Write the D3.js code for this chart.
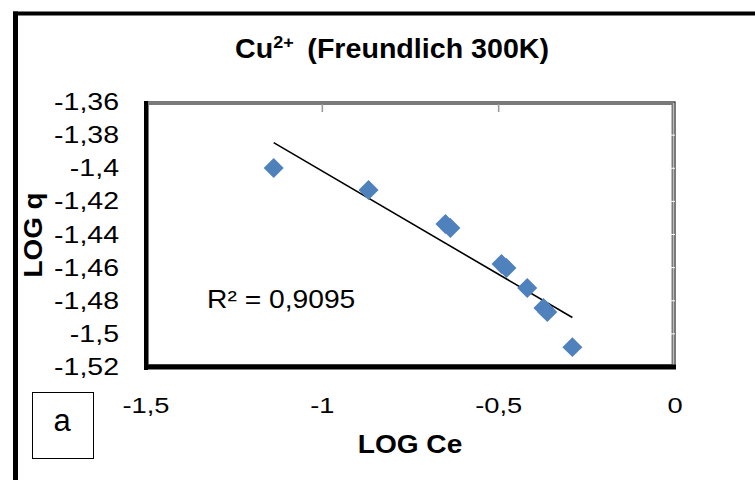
<!DOCTYPE html>
<html>
<head>
<meta charset="utf-8">
<script src="https://cdn.jsdelivr.net/npm/d3@7"></script>
<style>
  html, body { margin: 0; padding: 0; background: #fff; }
  svg { display: block; font-family: "Liberation Sans", Arial, sans-serif; }
</style>
</head>
<body>
<svg id="chart" width="755" height="480"></svg>
<script>
// Freundlich isotherm data, Cu2+ at 300 K
const logCe = [-1.138, -0.869, -0.651, -0.637, -0.492, -0.478, -0.419, -0.373, -0.362, -0.291];
const logQ  = [-1.3999, -1.4131, -1.4337, -1.4361, -1.4578, -1.4602, -1.4723, -1.4844, -1.4868, -1.5080];
const xTicks = [-1.5, -1, -0.5, 0];
const yTicks = [-1.36, -1.38, -1.40, -1.42, -1.44, -1.46, -1.48, -1.50, -1.52];
const r2Label = "R² = 0,9095";

const svg = d3.select("#chart");
const fmt = v => String(+v.toFixed(2)).replace(".", ",");

const x = d3.scaleLinear().domain([-1.5, 0]).range([146, 675]);
const y = d3.scaleLinear().domain([-1.36, -1.52]).range([102, 367]);

// text helper with horizontal stretch
function label(px, py, txt, opts) {
  const o = Object.assign({ size: 22, sx: 1, anchor: "start", weight: "normal", rot: 0 }, opts || {});
  const g = svg.append("g").attr("transform", `translate(${px},${py}) rotate(${o.rot}) scale(${o.sx},1)`);
  return g.append("text")
    .attr("text-anchor", o.anchor)
    .attr("font-size", o.size)
    .attr("font-weight", o.weight)
    .attr("fill", "#000")
    .text(txt);
}

// outer chart frame (left and top edges)
svg.append("line").attr("x1", 15.5).attr("x2", 15.5).attr("y1", 11.5).attr("y2", 480)
  .attr("stroke", "#000").attr("stroke-width", 5);
svg.append("line").attr("x1", 13).attr("x2", 755).attr("y1", 13.5).attr("y2", 13.5)
  .attr("stroke", "#000").attr("stroke-width", 4);

// title
const title = svg.append("g").attr("transform", "translate(392,58) scale(1.06,1)")
  .append("text").attr("text-anchor", "middle").attr("font-size", 27).attr("font-weight", "bold");
title.append("tspan").text("Cu");
title.append("tspan").attr("font-size", 17).attr("dy", -10).text("2+");
title.append("tspan").attr("dy", 10).text("\u2009 (Freundlich 300K)");

// plot area frame
const [x0, x1] = x.range();
const [y0, y1] = y.range();
svg.append("rect").attr("x", x0).attr("y", y0).attr("width", x1 - x0).attr("height", y1 - y0)
  .attr("fill", "#fff").attr("stroke", "#222").attr("stroke-width", 1.2);
svg.append("rect").attr("x", x0 + 2).attr("y", y0 + 2).attr("width", x1 - x0 - 4.5).attr("height", y1 - y0 - 4)
  .attr("fill", "none").attr("stroke", "#7a7a7a").attr("stroke-width", 2);

// ticks on the top edge and on the right edge
svg.selectAll(".xt").data(xTicks.slice(1, -1)).enter().append("line")
  .attr("x1", d => x(d)).attr("x2", d => x(d)).attr("y1", y0 + 2).attr("y2", y0 + 10)
  .attr("stroke", "#9a9a9a").attr("stroke-width", 1.6);
svg.selectAll(".yt").data(yTicks.slice(1, -1)).enter().append("line")
  .attr("x1", x1 - 4).attr("x2", x1).attr("y1", d => y(d)).attr("y2", d => y(d))
  .attr("stroke", "#fff").attr("stroke-width", 1);

// heavy left and bottom axis lines
svg.append("line").attr("x1", x0).attr("x2", x0).attr("y1", y0 - 1).attr("y2", y1 + 3)
  .attr("stroke", "#000").attr("stroke-width", 4);
svg.append("line").attr("x1", x0 - 2).attr("x2", x1 + 1).attr("y1", y1).attr("y2", y1)
  .attr("stroke", "#000").attr("stroke-width", 5);

// tick labels
yTicks.forEach(t => label(119, y(t) + 8, fmt(t), { size: 23, sx: 1.24, anchor: "end" }));
xTicks.forEach(t => label(x(t), 413, fmt(t), { size: 22, sx: 1.24, anchor: "middle" }));

// axis titles
label(410, 453, "LOG Ce", { size: 26, sx: 1.08, anchor: "middle", weight: "bold" });
label(42, 235, "LOG q", { size: 26, sx: 1.07, anchor: "middle", weight: "bold", rot: -90 });

// linear trendline (least squares)
const mx = d3.mean(logCe), my = d3.mean(logQ);
const sxy = d3.sum(logCe, (v, i) => (v - mx) * (logQ[i] - my));
const sxx = d3.sum(logCe, v => (v - mx) * (v - mx));
const slope = sxy / sxx, icpt = my - slope * mx;
const [xmin, xmax] = d3.extent(logCe);
svg.append("line")
  .attr("x1", x(xmin)).attr("y1", y(slope * xmin + icpt))
  .attr("x2", x(xmax)).attr("y2", y(slope * xmax + icpt))
  .attr("stroke", "#000").attr("stroke-width", 1.6);

// data markers
const diamond = d3.symbol().type(d3.symbolSquare).size(200);
svg.selectAll(".pt").data(logCe).enter().append("path")
  .attr("d", diamond)
  .attr("transform", (d, i) => `translate(${x(d)},${y(logQ[i])}) rotate(45)`)
  .attr("fill", "#4F81BD");

// R² annotation
label(207, 308, r2Label, { size: 25, sx: 1.13 });

// panel letter box
svg.append("rect").attr("x", 32.5).attr("y", 392.5).attr("width", 61).attr("height", 66)
  .attr("fill", "#fff").attr("stroke", "#000").attr("stroke-width", 1);
label(62, 431, "a", { size: 31, anchor: "middle" });
</script>
</body>
</html>
